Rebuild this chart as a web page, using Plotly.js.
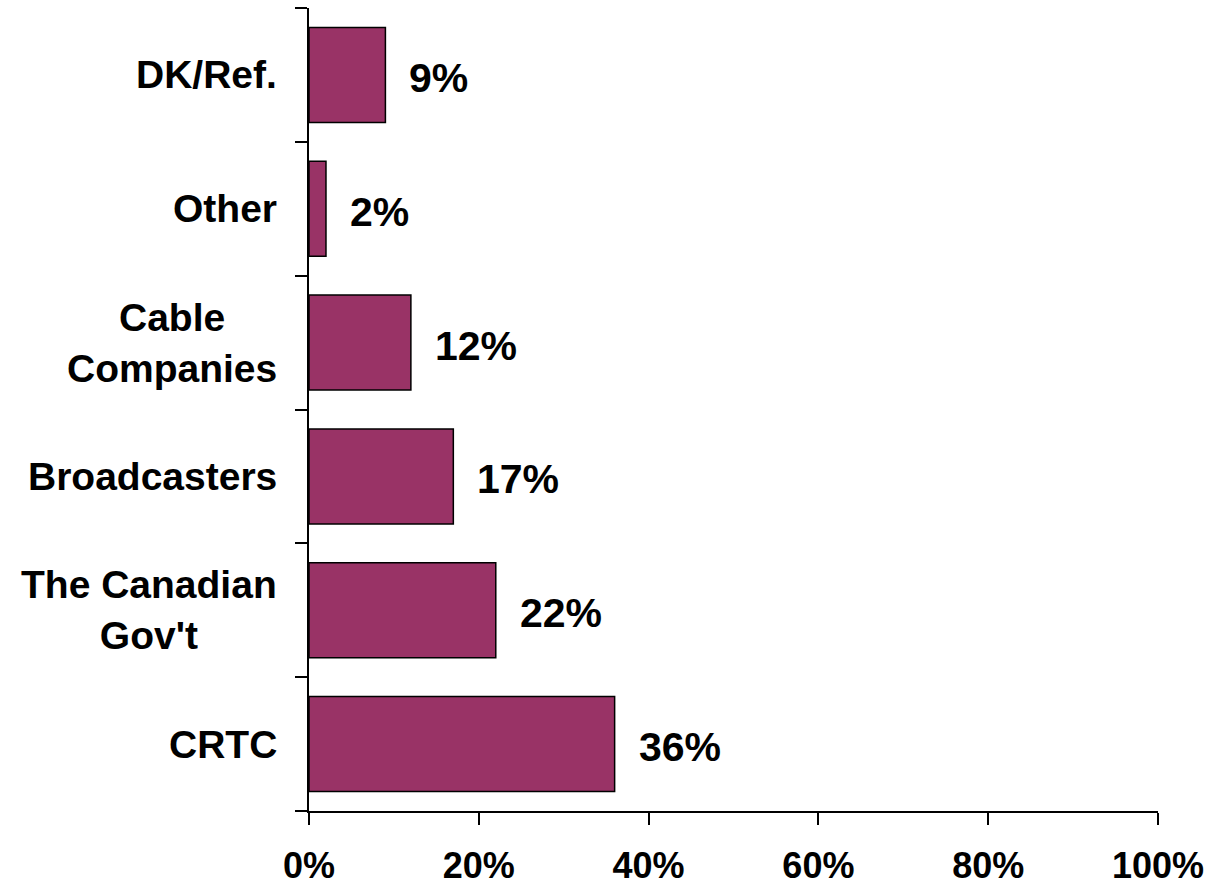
<!DOCTYPE html>
<html>
<head>
<meta charset="utf-8">
<script src="https://cdn.plot.ly/plotly-3.0.1.min.js"></script>
<style>html,body{margin:0;padding:0;background:#fff;}#chart{width:1213px;height:886px;}</style>
</head>
<body>
<div id="chart"></div>
<script>
const categories = ["CRTC", "The Canadian<br>Gov't", "Broadcasters", "Cable<br>Companies", "Other", "DK/Ref."];
const values = [36, 22, 17, 12, 2, 9];
const valueLabels = ["36%", "22%", "17%", "12%", "2%", "9%"];
const xTickVals = [0, 20, 40, 60, 80, 100];
const xTickText = ["0%", "20%", "40%", "60%", "80%", "100%"];

const FONT = "Liberation Sans, Arial, sans-serif";

const trace = {
  type: "bar",
  orientation: "h",
  x: values,
  y: categories,
  marker: { color: "#993366", line: { color: "#000000", width: 1.5 } },
  hoverinfo: "none"
};

const annotations = [];
categories.forEach((c, i) => {
  annotations.push({
    xref: "paper", yref: "y", x: 0, y: c,
    xanchor: "right", yanchor: "middle", xshift: -30,
    text: "<b>" + c + "</b>", showarrow: false, align: "center",
    font: { family: FONT, size: 39, color: "#000" }
  });
  annotations.push({
    xref: "x", yref: "y", x: values[i], y: c,
    xanchor: "left", yanchor: "middle", xshift: 22, yshift: -3,
    text: "<b>" + valueLabels[i] + "</b>", showarrow: false,
    font: { family: FONT, size: 41, color: "#000" }
  });
});

const layout = {
  width: 1213, height: 886,
  margin: { l: 309, r: 55, t: 8, b: 75 },
  paper_bgcolor: "#ffffff", plot_bgcolor: "#ffffff",
  showlegend: false,
  bargap: 0.29,
  font: { family: FONT, color: "#000" },
  xaxis: {
    range: [0, 100], tickvals: xTickVals, ticktext: xTickText,
    showgrid: false, zeroline: false, showline: true, linecolor: "#000", linewidth: 2,
    ticks: "outside", ticklen: 12, tickwidth: 2, tickcolor: "#000",
    ticklabelstandoff: 10,
    tickfont: { family: FONT, size: 36, color: "#000", weight: "bold" }
  },
  yaxis: {
    type: "category", tickson: "boundaries",
    showgrid: false, zeroline: false, showline: true, linecolor: "#000", linewidth: 2,
    ticks: "outside", ticklen: 12, tickwidth: 2, tickcolor: "#000",
    showticklabels: false
  },
  annotations: annotations
};

Plotly.newPlot("chart", [trace], layout, { displayModeBar: false, staticPlot: true });
</script>
</body>
</html>
